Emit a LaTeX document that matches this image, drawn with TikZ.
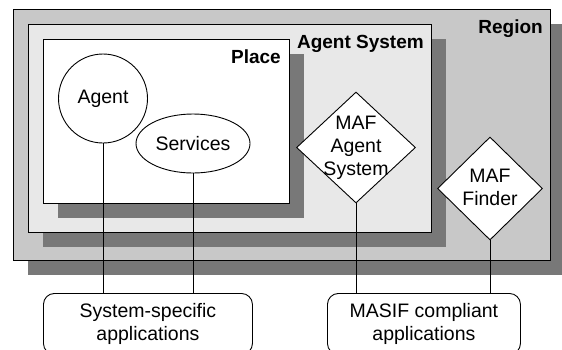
\documentclass[tikz,border=0pt]{standalone}
\usepackage{fontspec}
\setmainfont{Liberation Sans}
\usetikzlibrary{shapes.geometric}
\definecolor{shadowgray}{RGB}{120,120,120}
\definecolor{regiongray}{RGB}{200,200,200}
\definecolor{sysgray}{RGB}{232,232,232}
\begin{document}
\begin{tikzpicture}[x=1pt,y=-1pt,
  every node/.style={font=\fontsize{19.5}{23}\selectfont},
  frame/.style={draw=black,line width=0.9pt,rectangle,anchor=north west,inner sep=0pt},
  shadowbox/.style={fill=shadowgray,draw=none,rectangle,anchor=north west,inner sep=0pt},
  title/.style={font=\fontsize{19}{23}\selectfont\bfseries,anchor=base east,inner sep=0pt},
  shapeline/.style={draw=black,line width=0.9pt,fill=white,inner sep=0pt},
  label/.style={inner sep=0pt,align=center},
  conn/.style={draw=black,line width=0.9pt},
  appbox/.style={draw=black,line width=0.9pt,fill=white,rounded corners=11pt,anchor=north west,inner sep=0pt,align=center}
]
\path[use as bounding box,clip] (0,0) rectangle (562,349);
% Region
\node[shadowbox,minimum width=537pt,minimum height=251pt] (regionshadow) at (28,24) {};
\node[frame,fill=regiongray,minimum width=537pt,minimum height=251pt] (region) at (13,9) {};
\node[title] (regiontitle) at (543,33) {Region};
% Agent system
\node[shadowbox,minimum width=403pt,minimum height=208pt] (sysshadow) at (43,39) {};
\node[frame,fill=sysgray,minimum width=403pt,minimum height=208pt] (agentsys) at (28,24) {};
\node[title] (systitle) at (424,48) {Agent System};
% Place
\node[shadowbox,minimum width=246pt,minimum height=164pt] (placeshadow) at (58,54) {};
\node[frame,fill=white,minimum width=246pt,minimum height=164pt] (place) at (43,39) {};
\node[title] (placetitle) at (281,63) {Place};
% Agent and services
\node[shapeline,circle,minimum size=89pt] (agent) at (103,98.5) {Agent};
\node[shapeline,ellipse,minimum width=114pt,minimum height=59pt] (services) at (193,143.5) {Services};
% Diamonds
\node[shapeline,diamond,minimum width=119pt,minimum height=111pt] (mafas) at (356,147.5) {};
\node[label] (mafastext) at (356,147.5) {MAF\\Agent\\System};
\node[shapeline,diamond,minimum width=105pt,minimum height=103pt] (maff) at (490,188.5) {};
\node[label] (mafftext) at (490,187) {MAF\\Finder};
% Application boxes
\node[appbox,minimum width=209pt,minimum height=61pt] (sysapp) at (43,293) {System-specific\\applications};
\node[appbox,minimum width=193pt,minimum height=61pt] (masif) at (327,293) {MASIF compliant\\applications};
% Connectors
\draw[conn] (agent.south) -- (sysapp.north -| agent.south);
\draw[conn] (services.south) -- (sysapp.north -| services.south);
\draw[conn] (mafas.south) -- (masif.north -| mafas.south);
\draw[conn] (maff.south) -- (masif.north -| maff.south);
\end{tikzpicture}
\end{document}
